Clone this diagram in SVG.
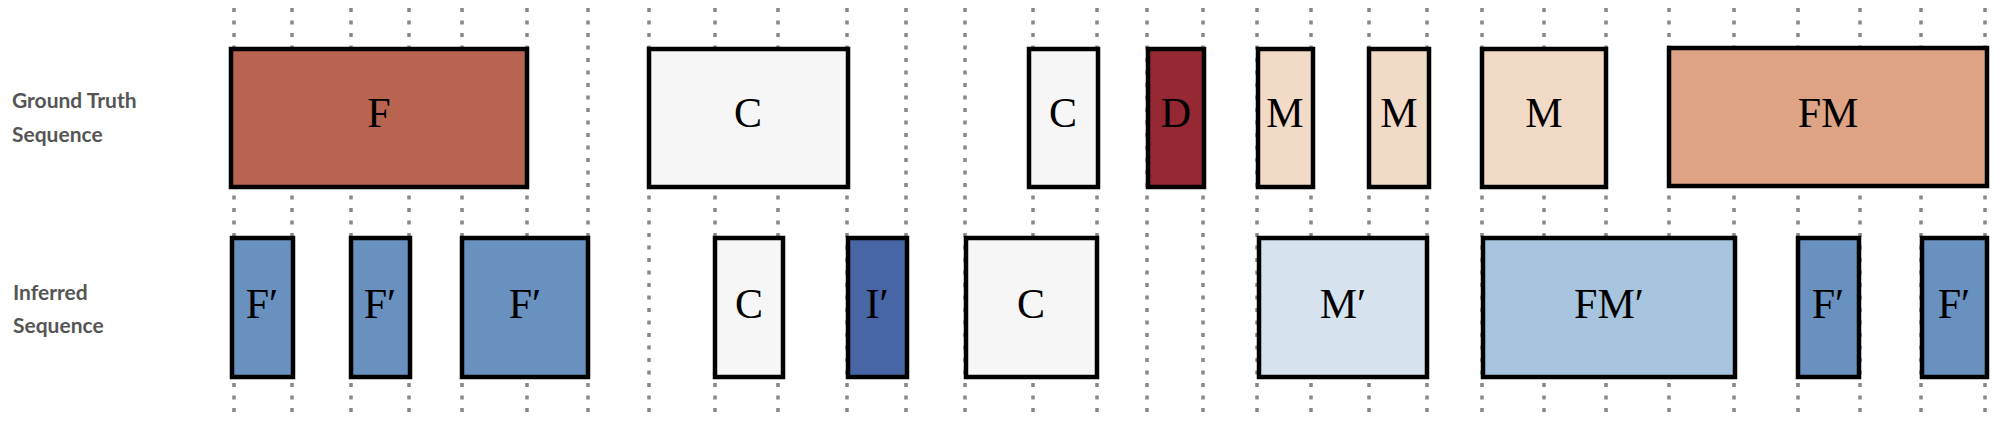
<svg xmlns="http://www.w3.org/2000/svg" width="2003" height="422" viewBox="0 0 2003 422">
<style>
.g line{stroke:#888;stroke-width:3.5;stroke-dasharray:4 8.5}
.b{stroke:#000;stroke-width:4.5}
.t{font-family:"Liberation Serif",serif;font-size:42px;text-anchor:middle;fill:#000}
.l{font-family:"Lato","Open Sans",sans-serif;font-weight:bold;font-size:21px;fill:#555}
</style>
<rect width="2003" height="422" fill="#fff"/>
<g id="connectors" class="g">
<line x1="234" y1="8" x2="234" y2="414"/><line x1="292" y1="8" x2="292" y2="414"/><line x1="351" y1="8" x2="351" y2="414"/><line x1="409" y1="8" x2="409" y2="414"/><line x1="462" y1="8" x2="462" y2="414"/><line x1="527" y1="8" x2="527" y2="414"/><line x1="588" y1="8" x2="588" y2="414"/><line x1="649" y1="8" x2="649" y2="414"/><line x1="715" y1="8" x2="715" y2="414"/><line x1="778" y1="8" x2="778" y2="414"/><line x1="847" y1="8" x2="847" y2="414"/><line x1="906" y1="8" x2="906" y2="414"/><line x1="965" y1="8" x2="965" y2="414"/><line x1="1033" y1="8" x2="1033" y2="414"/><line x1="1097" y1="8" x2="1097" y2="414"/><line x1="1147" y1="8" x2="1147" y2="414"/><line x1="1203" y1="8" x2="1203" y2="414"/><line x1="1257" y1="8" x2="1257" y2="414"/><line x1="1311" y1="8" x2="1311" y2="414"/><line x1="1369" y1="8" x2="1369" y2="414"/><line x1="1427" y1="8" x2="1427" y2="414"/><line x1="1482" y1="8" x2="1482" y2="414"/><line x1="1544" y1="8" x2="1544" y2="414"/><line x1="1606" y1="8" x2="1606" y2="414"/><line x1="1669" y1="8" x2="1669" y2="414"/><line x1="1734" y1="8" x2="1734" y2="414"/><line x1="1798" y1="8" x2="1798" y2="414"/><line x1="1860" y1="8" x2="1860" y2="414"/><line x1="1921" y1="8" x2="1921" y2="414"/><line x1="1985" y1="8" x2="1985" y2="414"/>
</g>
<text class="l" x="12" y="108">Ground Truth</text><text class="l" x="12" y="142">Sequence</text>
<text class="l" x="13" y="300">Inferred</text><text class="l" x="13" y="333">Sequence</text>
<g id="gt-F"><rect class="b" x="231" y="49" width="296" height="138" fill="#B86450"/><text class="t" x="379" y="127">F</text></g>
<g id="gt-C1"><rect class="b" x="649" y="49" width="199" height="138" fill="#F6F6F6"/><text class="t" x="748" y="127">C</text></g>
<g id="gt-C2"><rect class="b" x="1029" y="49" width="69" height="138" fill="#F6F6F6"/><text class="t" x="1063" y="127">C</text></g>
<g id="gt-D"><rect class="b" x="1148" y="49" width="56" height="138" fill="#952832"/><text class="t" x="1176" y="127">D</text></g>
<g id="gt-M1"><rect class="b" x="1258" y="49" width="55" height="138" fill="#F2DBC6"/><text class="t" x="1285" y="127">M</text></g>
<g id="gt-M2"><rect class="b" x="1369" y="49" width="60" height="138" fill="#F2DBC6"/><text class="t" x="1399" y="127">M</text></g>
<g id="gt-M3"><rect class="b" x="1482" y="49" width="124" height="138" fill="#F2DBC6"/><text class="t" x="1544" y="127">M</text></g>
<g id="gt-FM"><rect class="b" x="1669" y="48" width="318" height="138" fill="#DDA384"/><text class="t" x="1828" y="127">FM</text></g>
<g id="in-F1"><rect class="b" x="232" y="238" width="61" height="139" fill="#6891C0"/><text class="t" x="262" y="318">F′</text></g>
<g id="in-F2"><rect class="b" x="351" y="238" width="59" height="139" fill="#6891C0"/><text class="t" x="380" y="318">F′</text></g>
<g id="in-F3"><rect class="b" x="462" y="238" width="126" height="139" fill="#6891C0"/><text class="t" x="525" y="318">F′</text></g>
<g id="in-C1"><rect class="b" x="715" y="238" width="68" height="139" fill="#F6F6F6"/><text class="t" x="749" y="318">C</text></g>
<g id="in-I"><rect class="b" x="848" y="238" width="59" height="139" fill="#4865A6"/><text class="t" x="877" y="318">I′</text></g>
<g id="in-C2"><rect class="b" x="966" y="238" width="131" height="139" fill="#F6F6F6"/><text class="t" x="1031" y="318">C</text></g>
<g id="in-M"><rect class="b" x="1259" y="238" width="168" height="139" fill="#D6E3EF"/><text class="t" x="1343" y="318">M′</text></g>
<g id="in-FM"><rect class="b" x="1483" y="238" width="252" height="139" fill="#A6C4DD"/><text class="t" x="1609" y="318">FM′</text></g>
<g id="in-F4"><rect class="b" x="1798" y="238" width="61" height="139" fill="#6891C0"/><text class="t" x="1828" y="318">F′</text></g>
<g id="in-F5"><rect class="b" x="1922" y="238" width="65" height="139" fill="#6891C0"/><text class="t" x="1954" y="318">F′</text></g>
</svg>
